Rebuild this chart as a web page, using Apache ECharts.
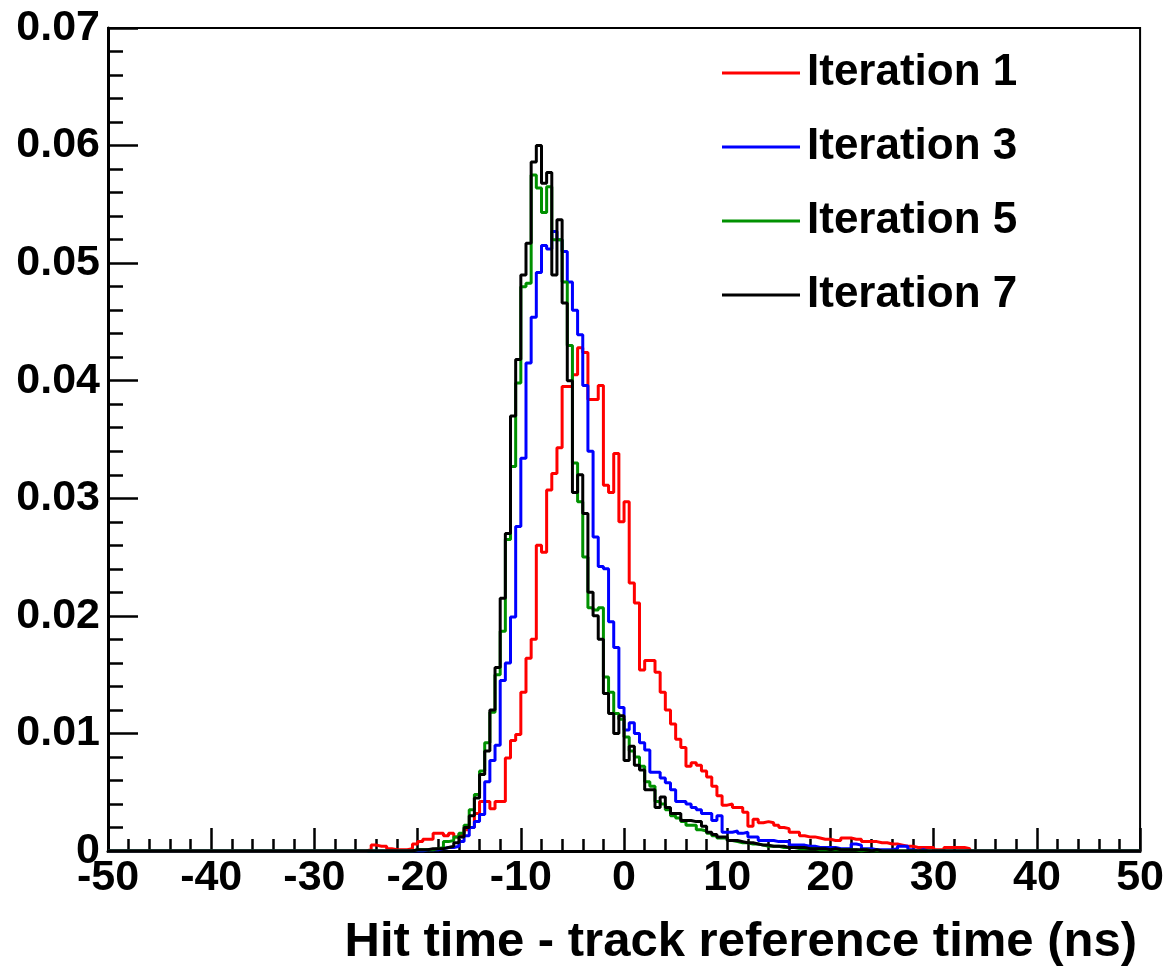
<!DOCTYPE html>
<html>
<head>
<meta charset="utf-8">
<script src="https://cdn.jsdelivr.net/npm/echarts@6/dist/echarts.min.js"></script>
<style>html,body{margin:0;padding:0;background:#fff}#c{width:1167px;height:973px}</style>
</head>
<body>
<div id="c"></div>
<script>
// Histogram bins: width 0.5 ns, values listed from left edge -25 ns to 35 ns (120 bins); zero elsewhere in [-50, 50]
const binWidth = 0.5;
const firstEdge = -25;
const seriesNames = ['Iteration 1', 'Iteration 3', 'Iteration 5', 'Iteration 7'];
const xTicks = [-50, -40, -30, -20, -10, 0, 10, 20, 30, 40, 50];
const yTicks = [0, 0.01, 0.02, 0.03, 0.04, 0.05, 0.06, 0.07];

const iter1 = [
  0.0001,0.0005,0.0004,0.0004,0.0002,0.0001,0.0001,0.0001,0.0002,0.0006,
  0.0008,0.0010,0.0010,0.0015,0.0015,0.0013,0.0015,0.0012,0.0014,0.0018,
  0.0020,0.0032,0.0042,0.0042,0.0036,0.0042,0.0042,0.0079,0.0094,0.0099,
  0.0135,0.0164,0.0180,0.0260,0.0254,0.0307,0.0321,0.0343,0.0395,0.0395,
  0.0405,0.0428,0.0424,0.0384,0.0384,0.0396,0.0311,0.0305,0.0338,0.0280,
  0.0297,0.0228,0.0211,0.0154,0.0162,0.0162,0.0152,0.0135,0.0120,0.0108,
  0.0095,0.0088,0.0072,0.0075,0.0073,0.0068,0.0063,0.0055,0.0047,0.0039,
  0.0040,0.0037,0.0037,0.0033,0.0021,0.0027,0.0024,0.0025,0.0024,0.0022,
  0.0020,0.0019,0.0016,0.0016,0.0013,0.0012,0.0012,0.0011,0.0010,0.0010,
  0.0009,0.0009,0.0011,0.0011,0.0010,0.0010,0.0008,0.0008,0.0008,0.0007,
  0.0007,0.0006,0.0006,0.0005,0.0004,0.0004,0.0003,0.0003,0.0003,0.0003,
  0.0001,0.0001,0.0003,0.0003,0.0003,0.0003,0.0002,0,0,0
];
const iter3 = [
  0,0,0,0,0,0,0,0,0,0,
  0,0.0001,0.0001,0.0001,0.0002,0.0003,0.0003,0.0004,0.0008,0.0013,
  0.0020,0.0025,0.0031,0.0059,0.0077,0.0090,0.0145,0.0160,0.0199,0.0276,
  0.0334,0.0415,0.0454,0.0492,0.0515,0.0512,0.0527,0.0520,0.0510,0.0484,
  0.0460,0.0439,0.0396,0.0340,0.0267,0.0242,0.0240,0.0195,0.0173,0.0122,
  0.0103,0.0109,0.0100,0.0092,0.0086,0.0067,0.0067,0.0062,0.0058,0.0052,
  0.0042,0.0042,0.0040,0.0037,0.0035,0.0032,0.0032,0.0026,0.0030,0.0016,
  0.0016,0.0017,0.0015,0.0016,0.0012,0.0012,0.0009,0.0009,0.0009,0.0008,
  0.0008,0.0008,0.0005,0.0005,0.0005,0.0004,0.0004,0.0003,0.0003,0.0003,
  0.0003,0.0002,0.0002,0.0002,0.0006,0.0005,0.0002,0.0002,0.0001,0.0001,
  0.0001,0.0001,0.0002,0.0004,0.0004,0.0001,0,0.0001,0,0,
  0,0,0,0,0,0,0,0,0,0
];
const iter5 = [
  0,0,0,0,0,0,0,0,0,0.0001,
  0.0001,0.0001,0.0001,0.0002,0.0003,0.0008,0.0009,0.0012,0.0015,0.0022,
  0.0035,0.0048,0.0068,0.0092,0.0118,0.0150,0.0187,0.0265,0.0327,0.0398,
  0.0480,0.0483,0.0575,0.0564,0.0543,0.0565,0.0520,0.0520,0.0484,0.0430,
  0.0330,0.0297,0.0250,0.0207,0.0205,0.0207,0.0148,0.0135,0.0117,0.0112,
  0.0097,0.0085,0.0080,0.0072,0.0059,0.0055,0.0042,0.0040,0.0035,0.0030,
  0.0028,0.0025,0.0022,0.0022,0.0018,0.0017,0.0015,0.0013,0.0011,0.0011,
  0.0009,0.0008,0.0007,0.0007,0.0006,0.0006,0.0005,0.0004,0.0004,0.0004,
  0.0003,0.0003,0.0003,0.0002,0.0002,0.0002,0.0002,0.0001,0.0001,0.0001,
  0.0001,0.0001,0.0001,0.0001,0.0001,0,0.0001,0,0,0,
  0,0,0,0,0,0,0,0,0,0,
  0,0,0,0,0,0,0,0,0,0
];
const iter7 = [
  0,0,0,0,0,0,0,0,0,0.0001,
  0.0001,0.0001,0.0002,0.0002,0.0002,0.0003,0.0004,0.0007,0.0012,0.0020,
  0.0030,0.0045,0.0065,0.0085,0.0120,0.0156,0.0215,0.0270,0.0370,0.0418,
  0.0490,0.0517,0.0586,0.0600,0.0568,0.0577,0.0490,0.0537,0.0466,0.0400,
  0.0305,0.0320,0.0287,0.0220,0.0200,0.0180,0.0134,0.0117,0.0100,0.0115,
  0.0077,0.0089,0.0073,0.0069,0.0052,0.0052,0.0037,0.0046,0.0037,0.0032,
  0.0032,0.0026,0.0026,0.0025,0.0025,0.0021,0.0016,0.0014,0.0012,0.0012,
  0.0009,0.0009,0.0008,0.0007,0.0007,0.0006,0.0005,0.0005,0.0004,0.0004,
  0.0004,0.0003,0.0003,0.0003,0.0003,0.0002,0.0002,0.0002,0.0002,0.0001,
  0.0002,0.0001,0.0001,0.0001,0.0001,0.0001,0.0001,0,0.0001,0,
  0,0,0,0,0,0,0,0,0,0,
  0,0,0,0,0,0,0,0,0,0
];
const seriesValues = [iter1, iter3, iter5, iter7];
const seriesColors = ['#ff0000', '#0000ff', '#009100', '#000000'];

function toSteps(vals) {
  const pts = [[-50, 0]];
  vals.forEach((v, i) => pts.push([firstEdge + i * binWidth, v]));
  pts.push([firstEdge + vals.length * binWidth, 0]);
  pts.push([50, 0]);
  return pts;
}

const FONT = '"Liberation Sans", Arial, Helvetica, sans-serif';
const chart = echarts.init(document.getElementById('c'), null, {renderer: 'canvas'});
chart.setOption({
  animation: false,
  backgroundColor: '#fff',
  title: {
    text: 'Hit time - track reference time (ns)',
    right: 25, top: 913,
    textStyle: {fontSize: 49, fontWeight: 'bold', color: '#000', fontFamily: FONT}
  },
  legend: {
    orient: 'vertical', left: 717, top: 46,
    icon: 'rect', itemWidth: 78, itemHeight: 3, itemGap: 30,
    textStyle: {fontSize: 44, fontWeight: 'bold', color: '#000', fontFamily: FONT, lineHeight: 42, padding: [0, 0, 0, 2]},
    data: seriesNames
  },
  grid: {left: 108, right: 24, top: 28, bottom: 122, show: true, borderColor: '#000', borderWidth: 2, backgroundColor: 'transparent'},
  xAxis: {
    type: 'value', min: xTicks[0], max: xTicks[xTicks.length - 1], interval: 10,
    axisLine: {show: true, onZero: false, lineStyle: {color: '#000', width: 3}},
    axisTick: {show: true, inside: true, length: 23, lineStyle: {color: '#000', width: 2.5}},
    minorTick: {show: true, splitNumber: 5, length: 12, lineStyle: {color: '#000', width: 2.5}},
    splitLine: {show: false},
    axisLabel: {fontSize: 43, fontWeight: 'bold', color: '#000', fontFamily: FONT, margin: 6}
  },
  yAxis: {
    type: 'value', min: yTicks[0], max: yTicks[yTicks.length - 1], interval: 0.01,
    axisLine: {show: true, onZero: false, lineStyle: {color: '#000', width: 3}},
    axisTick: {show: true, inside: true, length: 30, lineStyle: {color: '#000', width: 2.5}},
    minorTick: {show: true, splitNumber: 5, length: 15, lineStyle: {color: '#000', width: 2.5}},
    splitLine: {show: false},
    axisLabel: {fontSize: 43, fontWeight: 'bold', color: '#000', fontFamily: FONT, margin: 8,
      formatter: v => (Math.abs(v) < 1e-9 ? '0' : v.toFixed(2))}
  },
  series: seriesNames.map((n, i) => ({
    name: n, type: 'line', step: 'end', symbol: 'none', showSymbol: false,
    data: toSteps(seriesValues[i]),
    lineStyle: {color: seriesColors[i], width: 3},
    itemStyle: {color: seriesColors[i]},
    z: 2 + i
  }))
});
</script>
</body>
</html>
